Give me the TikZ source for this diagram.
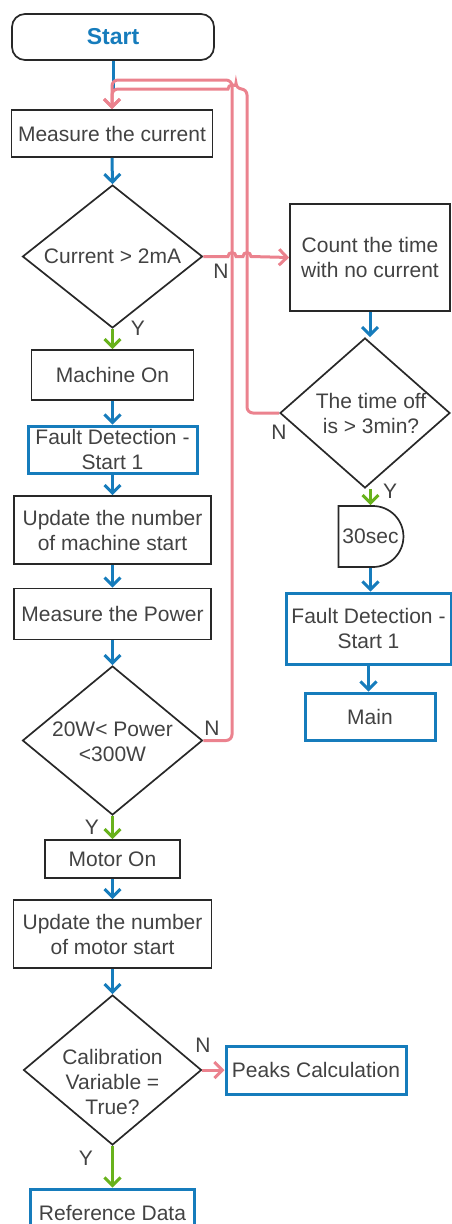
\documentclass[tikz,border=0pt]{standalone}
\usepackage{fontspec}
\setmainfont{Liberation Sans}
\usetikzlibrary{arrows.meta,shapes.geometric,shapes.misc,calc}

\definecolor{flowblue}{RGB}{22,124,188}
\definecolor{flowgreen}{RGB}{104,178,28}
\definecolor{flowpink}{RGB}{235,130,142}
\definecolor{ink}{RGB}{66,66,66}
\definecolor{edge}{RGB}{40,40,40}

\begin{document}
\begin{tikzpicture}[x=1pt,y=-1pt,
  font=\fontsize{21}{25}\selectfont, text=ink,
  box/.style={draw=edge, line width=1.7pt, rectangle, inner sep=0pt, align=center},
  subbox/.style={draw=flowblue, line width=3pt, rectangle, inner sep=0pt, align=center},
  decision/.style={draw=edge, line width=1.7pt, diamond, inner sep=0pt},
  delaybox/.style={draw=edge, line width=1.7pt, rounded rectangle, rounded rectangle west arc=none, inner sep=0pt},
  tip/.style={-{Straight Barb[length=8pt,width=16pt]}},
  flow/.style={draw=flowblue, line width=3pt, tip},
  yes/.style={draw=flowgreen, line width=3pt, tip},
  no/.style={draw=flowpink, line width=3pt, tip},
  tag/.style={inner sep=0pt}
]
\useasboundingbox (0,0) rectangle (451,1224);

% ---- main column ----
\node[box, rounded corners=13pt, minimum width=202pt, minimum height=46pt,
      font=\fontsize{23}{27}\selectfont\bfseries, text=flowblue] (start) at (113,37) {Start};
\node[box, minimum width=201pt, minimum height=47pt] (measure) at (112,133.5) {Measure the current};
\node[decision, minimum width=180pt, minimum height=143pt] (d1) at (112.5,256.5) {};
\node[align=center] (d1t) at (d1) {Current > 2mA};
\node[box, minimum width=162pt, minimum height=50pt] (machine) at (112.5,375) {Machine On};
\node[subbox, minimum width=169pt, minimum height=47pt] (fd1) at (112.5,449.5) {Fault Detection -\\Start 1};
\node[box, minimum width=197pt, minimum height=68pt] (upd1) at (112.5,530) {Update the number\\of machine start};
\node[box, minimum width=197pt, minimum height=51pt] (power) at (112.5,614) {Measure the Power};
\node[decision, minimum width=180pt, minimum height=149pt] (d2) at (112.5,740.5) {};
\node[align=center] (d2t) at (112.5,742) {20W< Power\\<300W};
\node[box, minimum width=135pt, minimum height=38pt] (motor) at (112.5,859) {Motor On};
\node[box, minimum width=198pt, minimum height=68pt] (upd2) at (112.5,934) {Update the number\\of motor start};
\node[decision, minimum width=178pt, minimum height=150pt] (d3) at (112.5,1070) {};
\node[align=center] (d3t) at (112.5,1082) {Calibration\\Variable =\\True?};
\node[subbox, minimum width=164pt, minimum height=47pt] (ref) at (112.5,1212.5) {Reference Data};
\node[subbox, minimum width=180pt, minimum height=48pt] (peaks) at (316,1070) {Peaks Calculation};

% ---- right column ----
\node[box, minimum width=160pt, minimum height=107pt] (count) at (370,257.5) {Count the time\\with no current};
\node[decision, minimum width=170pt, minimum height=150pt] (d4) at (365,413) {};
\node[align=center] (d4t) at (371,413.5) {The time off\\is > 3min?};
\node[delaybox, minimum width=65pt, minimum height=61pt] (wait) at (370.5,536.5) {30sec};
\node[subbox, minimum width=165pt, minimum height=71pt] (fd2) at (368.5,628.5) {Fault Detection -\\Start 1};
\node[subbox, minimum width=130pt, minimum height=47pt] (main) at (370,716.5) {Main};

% ---- branch labels ----
\node[tag] (n1) at (221,271) {N};
\node[tag] (y1) at (138,328) {Y};
\node[tag] (n4) at (279,432) {N};
\node[tag] (y4) at (390,491) {Y};
\node[tag] (n2) at (212,728) {N};
\node[tag] (y2) at (92,827) {Y};
\node[tag] (n3) at (203,1045) {N};
\node[tag] (y3) at (86,1158) {Y};

% ---- return lines ----
\coordinate (busA) at (232,80);
\coordinate (busB) at (247,89);

% ---- connectors ----
\draw[draw=flowblue, line width=3pt] (start.south) -- (start.south |- busB);
\draw[flow] (measure.south) -- (d1.north);
\draw[yes] (d1.south) -- (machine.north);
\draw[flow] (machine.south) -- (fd1.north);
\draw[flow] (fd1.south) -- (upd1.north);
\draw[flow] (upd1.south) -- (power.north);
\draw[flow] (power.south) -- (d2.north);
\draw[yes] (d2.south) -- (motor.north);
\draw[flow] (motor.south) -- (upd2.north);
\draw[flow] (upd2.south) -- (d3.north);
\draw[yes] (d3.south) -- (ref.north);
\draw[no] (d3.east) -- (peaks.west);

\draw[flow] (count.south) -- (count.south |- d4.north);
\draw[yes] (wait.north |- d4.south) -- (wait.north);
\draw[flow] (wait.south) -- (wait.south |- fd2.north);
\draw[flow] (fd2.south) -- (fd2.south |- main.north);

% power out of range: back to the current measurement
\draw[no] (d2.east) [rounded corners=6pt] -- (d2.east -| busA) -- (busA)
  -- (busA -| measure.north) -- (measure.north);
% switched off long enough: back to the current measurement
\draw[no] (d4.west) [rounded corners=6pt] -- (d4.west -| busB) -- (busB)
  -- ([xshift=4pt]busA |- busB) [sharp corners] arc[start angle=0, end angle=180, radius=4pt]
  [rounded corners=6pt] -- (busB -| measure.north) -- (measure.north);
% no current: start counting, jumping over the return lines
\draw[no] (d1.east) -- ([xshift=-4pt]d1.east -| busA) arc[start angle=180, end angle=0, radius=4pt]
  -- ([xshift=-4pt]d1.east -| busB) arc[start angle=180, end angle=0, radius=4pt]
  -- (count.west);
\end{tikzpicture}
\end{document}
